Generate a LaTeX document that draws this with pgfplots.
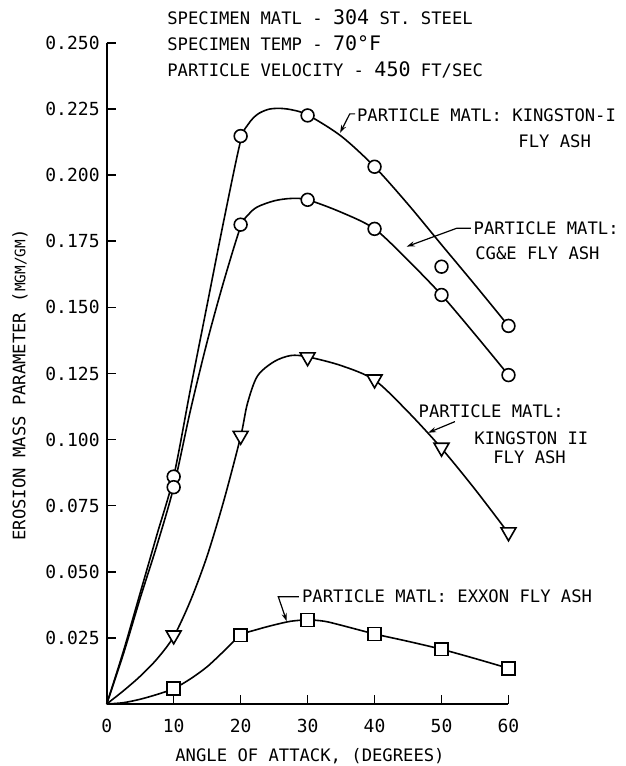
\documentclass[border=0pt]{standalone}
\usepackage{fontspec}
\setmainfont{DejaVu Sans Mono}
\usepackage{pgfplots}
\pgfplotsset{compat=1.18}
\usetikzlibrary{arrows.meta}
\newcommand\tf{\fontsize{8.6pt}{10pt}\selectfont}
\newcommand\nf{\fontsize{9pt}{10pt}\selectfont}
\tikzset{
  txt/.style={anchor=west, inner sep=0pt, font=\tf},
  lead/.style={black, line width=0.6pt, -{Stealth[length=4pt,width=2.6pt]}},
}
\begin{document}
\begin{tikzpicture}
\path[use as bounding box] (-53.35pt,-31pt) rectangle (259.65pt,352pt);
\begin{axis}[
  at={(0,0)}, anchor=origin,
  scale only axis, width=200.9pt, height=330.5pt,
  xmin=0, xmax=60, ymin=0, ymax=0.25,
  clip=false,
  axis lines=left,
  axis line style={-, line width=1pt},
  tick align=inside,
  major tick length=4.5pt,
  tick style={line width=0.8pt, black},
  xtick={0,10,20,30,40,50,60},
  xticklabels={0,10,20,30,40,50,60},
  ytick={0.025,0.05,0.075,0.1,0.125,0.15,0.175,0.2,0.225,0.25},
  yticklabels={0.025,0.050,0.075,0.100,0.125,0.150,0.175,0.200,0.225,0.250},
  xticklabel style={anchor=north, inner sep=0pt, yshift=-7.5pt, font=\nf},
  yticklabel style={anchor=east, inner sep=0pt, xshift=-3.35pt, font=\nf},
  xlabel={ANGLE OF ATTACK, (DEGREES)},
  ylabel={EROSION MASS PARAMETER ({\fontsize{7.2pt}{8pt}\selectfont MGM/GM})},
  every axis x label/.style={at={(axis description cs:0.506,-0.0787)}, anchor=center, font=\tf, inner sep=0pt},
  every axis y label/.style={at={(axis description cs:-0.2158,0.4826)}, rotate=90, anchor=center, font=\tf, inner sep=0pt},
  curve/.style={black, line width=0.8pt, smooth, tension=0.5, no marks},
  circ/.style={only marks, mark=*, mark size=3.2pt, mark options={fill=white, draw=black, line width=0.8pt}},
  sqr/.style={only marks, mark=square*, mark size=3.2pt, mark options={fill=white, draw=black, line width=0.8pt}},
  tri/.style={only marks, mark=triangle*, mark size=4.3pt, mark options={fill=white, draw=black, line width=0.8pt, rotate=180}},
]
% Kingston-I curve
\addplot[curve] coordinates {(0,0) (2.5,0.020) (5,0.042) (7.5,0.064) (10,0.086) (12.5,0.119) (15,0.151) (17.5,0.183) (20,0.2130) (21.2,0.2195) (22.5,0.2230) (24,0.2248) (25.5,0.2253) (27.5,0.2248) (30,0.2228) (35,0.2148) (40,0.2032) (45,0.1890) (50,0.1737) (55,0.1585) (60,0.1430)};
% CG&E curve
\addplot[curve] coordinates {(0,0) (2.5,0.019) (5,0.040) (7.5,0.060) (10,0.082) (12.5,0.1110) (15,0.137) (17.5,0.160) (20,0.1805) (21.2,0.1852) (22.5,0.1880) (25,0.1903) (27.5,0.1912) (30,0.1907) (35,0.1860) (40,0.1797) (45,0.1678) (50,0.1547) (55,0.1398) (60,0.1244)};
% Kingston II curve
\addplot[curve] coordinates {(0,0) (2.5,0.005) (5,0.0105) (7.5,0.017) (10,0.0255) (12.5,0.039) (15,0.056) (17.5,0.077) (20,0.1011) (21,0.1135) (22.5,0.1240) (25,0.1295) (27.5,0.1318) (30,0.1313) (35,0.1280) (40,0.1225) (45,0.1105) (50,0.0967) (55,0.0812) (60,0.0646)};
% Exxon curve
\addplot[curve] coordinates {(0,0) (2.5,0.0005) (5,0.0018) (7.5,0.0036) (10,0.0058) (12.5,0.0095) (15,0.0141) (17.5,0.0200) (20,0.026) (22.5,0.0282) (25,0.0299) (27.5,0.0313) (30,0.0318) (32.5,0.0313) (35,0.0298) (40,0.0265) (45,0.0237) (50,0.0207) (55,0.0172) (60,0.0135)};
% data points
\addplot[circ] coordinates {(10,0.086) (20,0.2148) (30,0.2226) (40,0.2032) (50,0.1654) (60,0.1430)};
\addplot[circ] coordinates {(10,0.082) (20,0.1813) (30,0.1907) (40,0.1797) (50,0.1547) (60,0.1244)};
\addplot[tri] coordinates {(10,0.0260) (20,0.1015) (30,0.1312) (40,0.1228) (50,0.0970) (60,0.0650)};
\addplot[sqr] coordinates {(10,0.0058) (20,0.026) (30,0.0318) (40,0.0265) (50,0.0207) (60,0.0135)};
% header
\node[txt] at (axis cs:9.0,0.2598) {SPECIMEN MATL - {\fontsize{10pt}{10pt}\selectfont 304} ST. STEEL};
\node[txt] at (axis cs:9.0,0.2500) {SPECIMEN TEMP - {\fontsize{10pt}{10pt}\selectfont 70°F}};
\node[txt] at (axis cs:9.0,0.2398) {PARTICLE VELOCITY - {\fontsize{10pt}{10pt}\selectfont 450} FT/SEC};
% annotations
\node[txt] at (axis cs:37.33,0.2228) {PARTICLE MATL: KINGSTON-I};
\node[txt] at (axis cs:61.42,0.2127) {FLY ASH};
\draw[lead] (axis cs:37.1,0.2232) -- (axis cs:36.3,0.2232) -- (axis cs:34.85,0.2160);
\node[txt] at (axis cs:54.74,0.1799) {PARTICLE MATL:};
\node[txt] at (axis cs:54.99,0.1705) {CG\&E FLY ASH};
\draw[lead] (axis cs:54.4,0.1799) -- (axis cs:52.23,0.1799) -- (axis cs:44.8,0.1730);
\node[txt] at (axis cs:46.53,0.1106) {PARTICLE MATL:};
\node[txt] at (axis cs:54.85,0.1005) {KINGSTON II};
\node[txt] at (axis cs:57.68,0.0935) {FLY ASH};
\draw[lead] (axis cs:52.0,0.1068) -- (axis cs:48.0,0.1026);
\node[txt] at (axis cs:29.12,0.0406) {PARTICLE MATL: EXXON FLY ASH};
\draw[lead] (axis cs:28.7,0.0406) -- (axis cs:25.62,0.0406) -- (axis cs:26.88,0.0313);
\end{axis}
\end{tikzpicture}
\end{document}
